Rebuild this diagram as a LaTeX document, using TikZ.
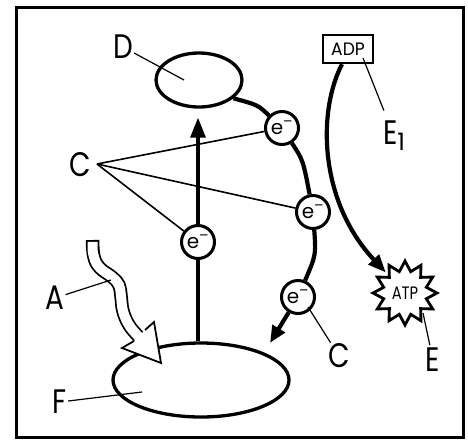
\documentclass[tikz,border=0pt]{standalone}
\usepackage{fontspec}
\setmainfont{Poppins}
\usepackage{graphicx}
\usetikzlibrary{shapes.geometric,arrows.meta}
\newcommand{\mylab}[1]{\scalebox{0.82}[1]{#1}}
\begin{document}
\begin{tikzpicture}[x=1pt,y=-1pt,
  lbl/.style={font=\fontsize{34}{34}\selectfont, inner sep=1pt},
  elec/.style={circle, draw, line width=3pt, minimum size=33pt, inner sep=0pt, fill=white, font=\fontsize{20}{20}\selectfont},
  thk/.style={line width=4.2pt},
  lead/.style={line width=1.2pt},
  hub/.style={line width=1.6pt},
  oval/.style={ellipse, draw, line width=3.3pt, inner sep=0pt}
]
\useasboundingbox (0,0) rectangle (468,440);
\draw[line width=3.4pt] (16.5,7.5) rectangle (463.5,437.5);

% ovals
\node[oval, minimum width=86pt, minimum height=54pt] (D) at (199,80) {};
\node[oval, minimum width=176pt, minimum height=74pt] (F) at (201,380) {};

% electrons
\node[elec] (e1) at (198,242) {e\textsuperscript{–}};
\node[elec] (e2) at (282,128) {e\textsuperscript{–}};
\node[elec] (e3) at (313,212) {e\textsuperscript{–}};
\node[elec] (e4) at (298,297) {e\textsuperscript{–}};

% labels
\node[lbl] (Dl) at (123,47) {\mylab{D}};
\node[lbl] (Cl) at (80,165) {\mylab{C}};
\node[lbl] (C2l) at (339,356) {\mylab{C}};
\node[lbl] (Al) at (55,298) {\mylab{A}};
\node[lbl] (Fl) at (60,402) {\mylab{F}};
\node[lbl] (El) at (433,360) {\mylab{E}};
\node[lbl] (E1l) at (394,136) {\mylab{E}\raisebox{-6pt}{\fontsize{24}{24}\selectfont 1}};

\coordinate (Dp) at (184,80);
\coordinate (hubC) at (97,164);
\coordinate (C2p) at (308,307);
\coordinate (Ap) at (111,280);
\coordinate (Fp) at (142,392);
\coordinate (Ep) at (423,313);
\coordinate (ADPp) at (363,58);
\coordinate (tipF) at (270,343);

% leaders
\draw[lead] (Dl) -- (Dp);
\draw[lead] (C2l) -- (C2p);
\draw[lead] (Fl) -- (Fp);
\draw[lead, shorten <=2pt] (El) -- (Ep);
\draw[lead, shorten <=10pt] (E1l) -- (ADPp);
\draw[hub] (hubC) -- (e1);
\draw[hub] (hubC) -- (e2);
\draw[hub] (hubC) -- (e3);

% vertical arrow
\draw[line width=3.2pt] (e1) -- (e1 |- F.north);
\draw[line width=3.2pt, shorten >=9pt, -{Triangle[length=20pt,width=15pt]}] (e1) -- (e1 |- D.south);

% electron chain
\draw[thk] (D.-28) .. controls (258,105) .. (e2);
\draw[thk] (e2) .. controls (303,160) .. (e3);
\draw[thk] (e3) .. controls (316,255) .. (e4);
\draw[thk, -{Triangle[length=17pt,width=14pt]}] (e4) -- (tipF);

% ADP / ATP
\node[draw, line width=2.4pt, minimum width=50pt, minimum height=28pt, inner sep=0pt, font=\fontsize{18}{18}\selectfont] (ADP) at (348,49) {\scalebox{0.95}[1]{ADP}};
\node[star, star points=12, star point ratio=1.45, minimum size=64pt, draw, line width=2.8pt, inner sep=0pt, font=\fontsize{18}{18}\selectfont] (ATP) at (405,293) {\scalebox{0.82}[1]{ATP}};
\draw[thk, shorten >=3pt, -{Triangle[length=18pt,width=14pt]}] ([xshift=-6pt]ADP.south) .. controls (318,110) and (318,200) .. (ATP);

% wavy light arrow A
\draw[line width=13.5pt] plot[smooth, tension=0.7] coordinates {(92.5,240) (94,257) (100,268) (112,277) (119,285) (121,296) (123,311) (129,325) (138,336) (143,341)};
\draw[line width=10pt, white, shorten <=1.8pt] plot[smooth, tension=0.7] coordinates {(92.5,240) (94,257) (100,268) (112,277) (119,285) (121,296) (123,311) (129,325) (138,336) (143,341)};
\fill[white] (134,341) -- (122,348) -- (161,363) -- (154,322) -- (145,330) -- cycle;
\draw[line width=1.8pt, line join=miter] (134,341) -- (122,348) -- (161,363) -- (154,322) -- (145,330);
\draw[lead] (Al) -- (Ap);
\end{tikzpicture}
\end{document}
